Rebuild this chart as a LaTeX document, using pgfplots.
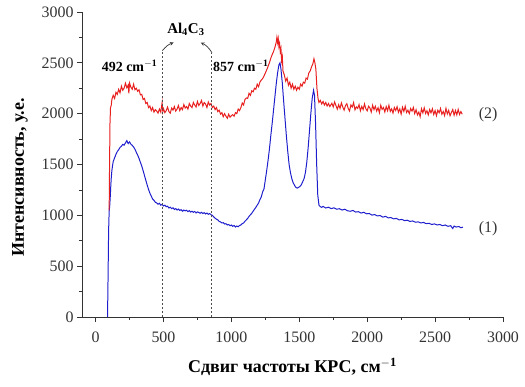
\documentclass[border=0pt]{standalone}
\usepackage{pgfplots}
\pgfplotsset{compat=1.18}
\usepackage{fontspec}
\setmainfont{Liberation Serif}
\definecolor{cred}{RGB}{232,32,32}
\definecolor{cblue}{RGB}{30,30,205}
\begin{document}
\begin{tikzpicture}
\begin{axis}[
  scale only axis, width=421bp, height=305bp,
  xmin=-100, xmax=3000, ymin=0, ymax=3000,
  axis lines*=left, axis line style={line width=0.8pt, black!80},
  xtick={0,500,...,3000}, ytick={0,500,...,3000},
  minor tick num=1, tick align=outside,
  major tick length=5bp, minor tick length=3bp,
  tick style={line width=0.8pt, black!80},
  /pgf/number format/assume math mode=true,
  /pgf/number format/1000 sep={},
  tick label style={font=\fontsize{16}{19}\selectfont, text=black!80},
  xticklabel style={yshift=-6bp},
  xlabel={\textbf{Сдвиг частоты КРС, см$^{\mathbf{-1}}$}},
  ylabel={\textbf{Интенсивность, у.е.}},
  label style={font=\fontsize{18}{21}\selectfont},
  xlabel style={yshift=-9bp},
  ylabel style={yshift=7bp, xshift=-13bp},
  clip=false,
]
\addplot[cblue, line width=1pt] coordinates {
(88,0)(92,400)(96,850)(100,1040)(104,1090)(108,1180)(112,1290)(116,1380)(120,1440)(125,1490)(130,1530)(140,1565)(150,1600)(160,1628)(170,1645)(180,1668)(190,1680)(200,1698)(210,1690)(220,1712)(230,1735)(240,1705)(250,1722)(260,1700)(270,1688)(280,1672)(290,1650)(300,1620)(310,1592)(320,1560)(330,1522)(340,1485)(350,1440)(360,1392)(370,1345)(380,1298)(390,1255)(400,1218)(410,1190)(420,1160)(430,1148)(440,1128)(450,1122)(460,1110)(470,1118)(480,1100)(490,1108)(500,1092)(510,1100)(520,1085)(530,1090)(540,1072)(550,1080)(560,1066)(570,1074)(580,1058)(590,1066)(600,1052)(610,1062)(620,1048)(630,1056)(640,1040)(650,1052)(660,1044)(670,1050)(680,1036)(690,1046)(700,1032)(710,1040)(720,1030)(730,1038)(740,1024)(750,1034)(760,1028)(770,1020)(780,1030)(790,1018)(800,1026)(810,1014)(820,1022)(830,1010)(840,1018)(850,1006)(860,1000)(870,985)(880,972)(890,962)(900,955)(910,940)(920,935)(930,925)(940,928)(950,915)(960,918)(970,905)(980,910)(990,898)(1000,905)(1010,892)(1020,900)(1030,885)(1040,895)(1050,888)(1060,900)(1070,905)(1080,918)(1090,925)(1100,942)(1110,955)(1120,970)(1130,990)(1140,1005)(1150,1020)(1160,1040)(1170,1060)(1180,1078)(1190,1100)(1200,1120)(1210,1155)(1220,1180)(1230,1230)(1240,1260)(1250,1350)(1260,1440)(1270,1540)(1280,1650)(1290,1780)(1300,1900)(1310,2030)(1320,2160)(1330,2290)(1340,2400)(1350,2480)(1358,2500)(1365,2440)(1375,2300)(1385,2120)(1395,1950)(1405,1780)(1415,1630)(1425,1500)(1435,1420)(1445,1360)(1455,1320)(1465,1295)(1475,1275)(1485,1268)(1495,1275)(1505,1285)(1515,1300)(1525,1330)(1535,1360)(1545,1420)(1555,1520)(1565,1660)(1575,1830)(1585,2000)(1595,2150)(1605,2230)(1612,2180)(1620,1900)(1628,1500)(1636,1200)(1645,1100)(1655,1085)(1665,1078)(1675,1088)(1695,1072)(1715,1080)(1735,1066)(1755,1074)(1775,1060)(1795,1065)(1815,1052)(1835,1060)(1855,1045)(1875,1040)(1895,1048)(1915,1032)(1935,1036)(1955,1022)(1975,1030)(1995,1015)(2015,1018)(2035,1002)(2055,1008)(2075,994)(2095,998)(2115,982)(2135,990)(2155,975)(2175,978)(2195,965)(2215,970)(2235,955)(2255,960)(2275,948)(2295,952)(2315,940)(2335,945)(2355,932)(2375,936)(2395,925)(2415,930)(2435,918)(2455,922)(2475,910)(2495,916)(2515,905)(2535,910)(2555,898)(2575,905)(2595,892)(2615,898)(2630,870)(2640,895)(2655,885)(2675,890)(2690,878)(2705,884)
};
\addplot[cred, line width=1pt] coordinates {
(100,1050)(103,1500)(106,1900)(110,2060)(115,2080)(120,2140)(130,2180)(140,2150)(150,2210)(160,2190)(170,2240)(180,2205)(190,2270)(200,2230)(210,2250)(220,2300)(230,2255)(240,2280)(245,2200)(250,2300)(260,2260)(270,2240)(280,2290)(290,2235)(300,2250)(310,2220)(320,2235)(330,2185)(340,2190)(350,2140)(360,2150)(370,2100)(380,2110)(390,2060)(400,2075)(410,2030)(420,2060)(430,2015)(440,2040)(450,2025)(460,2005)(470,2045)(480,2015)(490,2110)(495,2020)
(500,2050)(510,2010)(520,2030)(530,2065)(540,2020)(550,2005)(560,2055)(570,2035)(580,2070)(590,2025)(600,2045)(610,2080)(620,2030)(630,2060)(640,2040)(650,2090)(660,2055)(670,2070)(680,2045)(690,2100)(700,2075)(710,2060)(720,2110)(730,2085)(740,2065)(750,2120)(760,2080)(770,2100)(780,2130)(790,2075)(800,2110)(810,2095)(820,2060)(830,2115)(840,2085)(850,2100)(860,2060)(870,2075)(880,2040)(890,2060)(900,2020)(910,2035)(920,1995)(930,2010)(940,1970)(950,2000)(960,1975)(970,1955)(980,1995)(990,1965)(1000,1980)
(1010,1990)(1020,1975)(1030,2010)(1040,2000)(1050,2045)(1060,2030)(1070,2060)(1080,2105)(1090,2085)(1100,2140)(1110,2155)(1120,2150)(1130,2200)(1140,2180)(1150,2225)(1160,2215)(1170,2250)(1180,2240)(1190,2290)(1200,2265)(1210,2310)(1220,2330)(1230,2345)(1240,2370)(1250,2400)(1260,2430)(1270,2465)(1280,2500)(1290,2545)(1300,2580)(1310,2610)(1320,2650)(1330,2700)(1335,2750)(1340,2700)(1345,2740)(1350,2660)(1355,2690)(1360,2610)(1365,2640)(1370,2520)(1375,2560)(1380,2420)(1390,2380)(1400,2320)(1410,2350)(1420,2280)(1430,2310)(1440,2250)(1450,2290)(1460,2240)(1470,2270)(1480,2230)(1490,2260)(1500,2240)(1510,2290)(1520,2270)(1530,2310)(1540,2300)(1550,2350)(1560,2340)(1570,2400)(1580,2420)(1590,2460)(1600,2490)(1608,2540)(1615,2500)(1622,2440)(1630,2250)(1638,2150)(1645,2110)(1655,2130)(1665,2095)(1675,2120)(1685,2085)(1695,2110)(1705,2075)(1715,2100)(1725,2070)
(1740,2102)(1750,2066)(1760,2115)(1770,2079)(1780,2044)(1790,2088)(1800,2052)(1810,2106)(1820,2065)(1830,2035)(1840,2079)(1850,2098)(1860,2052)(1870,2026)(1880,2086)(1890,2065)(1900,2109)(1910,2038)(1920,2067)(1930,2052)(1940,2089)(1950,2028)(1960,2071)(1970,2040)(1980,2096)(1990,2049)(2000,2028)(2010,2073)(2020,2056)(2030,2016)(2040,2083)(2050,2040)(2060,2073)(2070,2025)(2080,2058)(2090,2009)(2100,2083)(2110,2042)(2120,2061)(2130,2016)(2140,2070)(2150,2029)(2160,2083)(2170,2022)(2180,2047)(2190,2006)(2200,2060)(2210,2031)(2220,2068)(2230,2013)(2240,2047)(2250,1996)(2260,2063)(2270,2022)(2280,2072)(2290,2011)(2300,2034)(2310,2001)(2320,2050)(2330,2025)(2340,2061)(2350,2000)(2360,2039)(2370,1988)(2380,2016)(2390,1970)(2400,2049)(2410,2008)(2420,2057)(2430,2002)(2440,2029)(2450,1988)(2460,2041)(2470,2008)(2480,2048)(2490,1992)(2500,2031)(2510,1980)(2520,2034)(2530,2009)(2540,2051)(2550,1994)(2560,2021)(2570,1980)(2580,2052)(2590,1997)(2600,2033)(2610,1979)(2620,2011)(2630,2041)(2640,1985)(2650,2032)(2660,1988)(2670,2042)(2680,1992)(2690,2021)(2700,1995)
};
\addplot[black!70, line width=1pt, dash pattern=on 2pt off 2pt] coordinates {(492,0)(492,2620)};
\addplot[black!70, line width=1pt, dash pattern=on 2pt off 2pt] coordinates {(857,0)(857,2600)};
\draw[-stealth, line width=0.7pt, black!80] (axis cs:492,2620) to[bend left=15] (axis cs:575,2700);
\draw[-stealth, line width=0.7pt, black!80] (axis cs:857,2600) to[bend right=15] (axis cs:775,2700);
\node[font=\fontsize{15}{18}\selectfont\bfseries] at (axis cs:665,2830) {Al$_{\mathbf 4}$C$_{\mathbf 3}$};
\node[font=\fontsize{14}{17}\selectfont\bfseries] at (axis cs:250,2470) {492 cm$^{\mathbf{-1}}$};
\node[font=\fontsize{14}{17}\selectfont\bfseries] at (axis cs:1070,2470) {857 cm$^{\mathbf{-1}}$};
\node[font=\fontsize{16}{19}\selectfont, text=black!80] at (axis cs:2890,1990) {(2)};
\node[font=\fontsize{16}{19}\selectfont, text=black!80] at (axis cs:2890,866) {(1)};
\end{axis}
\path ([shift={(-82bp,-70bp)}]current axis.south west);
\path ([shift={(22bp,12bp)}]current axis.north east);
\end{tikzpicture}
\end{document}
